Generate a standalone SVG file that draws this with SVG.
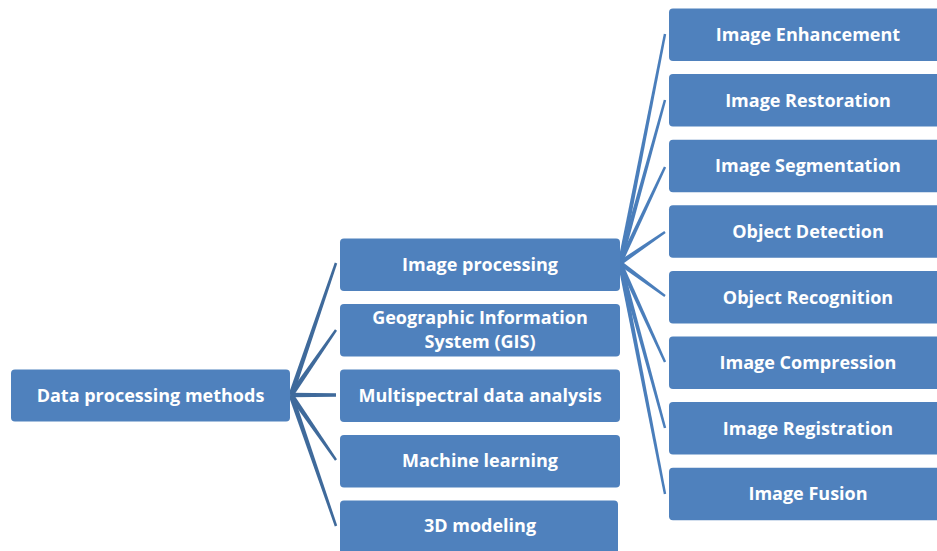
<svg xmlns="http://www.w3.org/2000/svg" width="937" height="551" viewBox="0 0 937 551">
<style>
.n{fill:#4F81BD;}
.t{fill:#FFFFFF;font-family:"Open Sans","Liberation Sans",sans-serif;font-weight:bold;font-size:18px;text-anchor:middle;}
.cl{fill:#3F6A9B;}
.cr{fill:#4A7EBB;}
</style>
<rect width="937" height="551" fill="#FFFFFF"/>
<g id="connectors">
<polygon class="cl" points="293.4,395.8 337.2,263.4 334.8,262.6 288.6,394.2"/>
<polygon class="cl" points="293.1,396.4 337,330.7 335,329.3 288.9,393.6"/>
<polygon class="cl" points="291,397.3 336,396.8 336,393.2 291,392.7"/>
<polygon class="cl" points="288.9,396.4 335,460.7 337,459.3 293.1,393.6"/>
<polygon class="cl" points="288.6,395.8 334.8,526.4 337.2,525.6 293.4,394.2"/>
<polygon class="cr" points="622.2,263.4 666.2,34.2 663.8,33.8 617.8,262.6"/>
<polygon class="cr" points="622.2,263.6 666.2,100.3 663.8,99.7 617.8,262.4"/>
<polygon class="cr" points="622,263.9 666.1,167.5 663.9,166.5 618,262.1"/>
<polygon class="cr" points="621.3,264.9 665.7,233 664.3,231 618.7,261.1"/>
<polygon class="cr" points="618.7,264.9 664.3,297 665.7,295 621.3,261.1"/>
<polygon class="cr" points="618,263.9 663.9,362.5 666.1,361.5 622,262.1"/>
<polygon class="cr" points="617.8,263.6 663.8,428.3 666.2,427.7 622.2,262.4"/>
<polygon class="cr" points="617.8,263.4 663.8,494.2 666.2,493.8 622.2,262.6"/>
</g>
<g id="root"><rect class="n" x="11" y="369.5" width="279" height="52" rx="4"/><text class="t" x="150.5" y="401.5">Data processing methods</text></g>
<g id="m1"><rect class="n" x="340" y="238.5" width="280" height="52.5" rx="4"/><text class="t" x="480" y="271">Image processing</text></g>
<g id="m2"><rect class="n" x="340" y="304" width="280" height="52.5" rx="4"/><text class="t" x="480" y="324">Geographic Information</text><text class="t" x="480" y="347.5">System (GIS)</text></g>
<g id="m3"><rect class="n" x="340" y="369.5" width="280" height="52.5" rx="4"/><text class="t" x="480" y="401.5">Multispectral data analysis</text></g>
<g id="m4"><rect class="n" x="340" y="435" width="280" height="52.5" rx="4"/><text class="t" x="480" y="467">Machine learning</text></g>
<g id="m5"><rect class="n" x="340" y="500.5" width="278" height="56" rx="4"/><text class="t" x="480" y="532">3D modeling</text></g>
<g id="r1"><rect class="n" x="669" y="8.5" width="278" height="52.5" rx="4"/><text class="t" x="808" y="41">Image Enhancement</text></g>
<g id="r2"><rect class="n" x="669" y="74" width="278" height="52.5" rx="4"/><text class="t" x="808" y="106.5">Image Restoration</text></g>
<g id="r3"><rect class="n" x="669" y="139.7" width="278" height="52.5" rx="4"/><text class="t" x="808" y="172.2">Image Segmentation</text></g>
<g id="r4"><rect class="n" x="669" y="205.3" width="278" height="52.5" rx="4"/><text class="t" x="808" y="237.8">Object Detection</text></g>
<g id="r5"><rect class="n" x="669" y="271" width="278" height="52.5" rx="4"/><text class="t" x="808" y="303.5">Object Recognition</text></g>
<g id="r6"><rect class="n" x="669" y="336.5" width="278" height="52.5" rx="4"/><text class="t" x="808" y="369">Image Compression</text></g>
<g id="r7"><rect class="n" x="669" y="402" width="278" height="52.5" rx="4"/><text class="t" x="808" y="434.5">Image Registration</text></g>
<g id="r8"><rect class="n" x="669" y="467.7" width="278" height="52.5" rx="4"/><text class="t" x="808" y="500.2">Image Fusion</text></g>
</svg>
